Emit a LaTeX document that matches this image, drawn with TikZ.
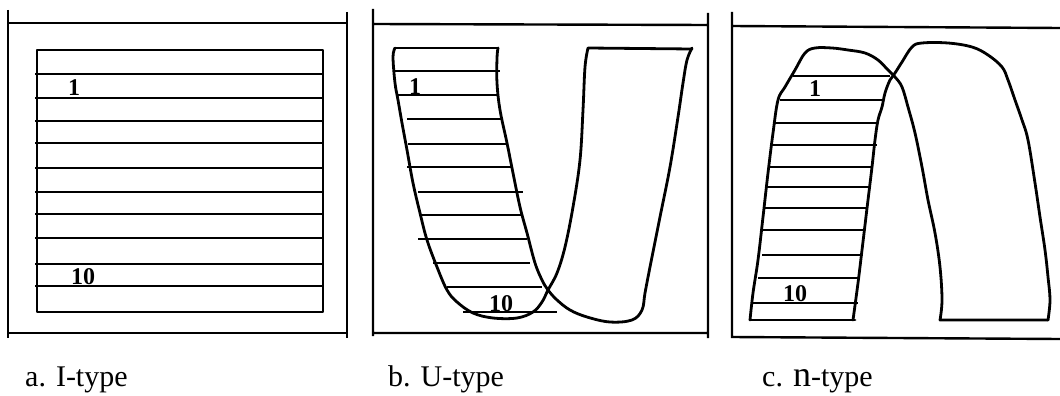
\documentclass[tikz,border=0pt]{standalone}
\usepackage{fontspec}
\setmainfont{Liberation Serif}
\tikzset{
  frame/.style={line width=2.4pt},
  outline/.style={line width=2.8pt, line join=round, line cap=round},
  layer/.style={line width=2.5pt},
  num/.style={font=\bfseries\fontsize{24}{24}\selectfont, inner sep=0pt},
  caption/.style={font=\fontsize{30}{30}\selectfont, inner sep=0pt, anchor=base west}
}

\begin{document}
\begin{tikzpicture}[x=1pt,y=-1pt]
\useasboundingbox (0,0) rectangle (1060,396);
% a. I-type
\draw[frame] (8,10) -- (8,338) (347,12) -- (347,338) (8,23) -- (347,23) (8,333) -- (347,333);
\draw[outline] (37,50) rectangle (323,312);
\foreach \y in {74,98,121,143,168,192,214,238,264,286}
  \draw[layer] (35,\y) -- (323,\y);
\node[num] (a1) at (74,88) {1};
\node[num] (a10) at (83,277) {10};
\node[caption] (acap) at (25,386) {a. I-type};

% b. U-type
\draw[frame] (373,9) -- (373,336) (708,13) -- (708,338) (373,24) -- (708,25) (373,333) -- (708,333);
\draw[outline] plot[smooth, tension=0.6] coordinates {(395,48) (393,57) (395,83) (398,100) (402,123)
  (407,150) (413,183) (420,213) (427,240) (437,267) (447,290) (457,302) (473,313) (493,318)
  (517,318) (533,312) (542,302) (548,290) (557,273) (565,247) (573,207) (580,160) (583,110)
  (585,67) (588,48)} -- (692,49);
\draw[outline] plot[smooth, tension=0.6] coordinates {(498,48) (497,58) (497,83) (500,110) (507,143)
  (513,173) (520,207) (527,233) (535,263) (542,280) (548,290) (557,300) (570,310) (587,317)
  (610,322) (632,320) (642,310) (645,293) (650,267) (660,217) (670,167) (678,117) (683,83)
  (687,60) (692,48)};
\draw[outline] (395,48) -- (498,48);
\foreach \y/\xa/\xb in {71/395/500, 95/397/498, 119/407/502, 144/408/508, 167/407/512,
    192/418/523, 215/420/523, 239/418/527, 263/433/530, 287/447/542, 312/463/557}
  \draw[layer] (\xa,\y) -- (\xb,\y);
\node[num] (b1) at (415,87) {1};
\node[num] (b10) at (501,304) {10};
\node[caption] (bcap) at (388,386) {b. U-type};

% c. n-type
\draw[frame] (732,12) -- (732,338) (732,26) -- (1060,28) (732,337) -- (1060,339);
\draw[outline] plot[smooth, tension=0.6] coordinates {(750,320) (753,293) (758,260) (763,217)
  (768,173) (773,133) (778,100) (785,87) (795,70) (805,53) (815,48) (832,48) (848,50) (865,53)
  (878,60) (888,70) (895,77) (902,87) (908,107) (915,133) (922,167) (928,200) (935,233)
  (940,267) (942,300) (940,320)} -- (1048,320);
\draw[outline] plot[smooth, tension=0.6] coordinates {(853,320) (858,283) (862,250) (868,200)
  (872,167) (875,140) (878,120) (882,107) (885,93) (890,80) (895,73) (902,62) (912,47) (922,43)
  (948,43) (972,47) (988,55) (1002,67) (1008,80) (1015,100) (1022,120) (1028,140) (1035,183)
  (1040,217) (1045,250) (1048,277) (1050,300) (1048,320)};
\draw[outline] (750,320) -- (855,320);
\foreach \y/\xa/\xb in {76/793/890, 100/780/883, 123/775/877, 145/772/877, 167/770/872,
    187/767/870, 208/765/868, 230/760/863, 255/762/863, 278/758/860, 303/753/858}
  \draw[layer] (\xa,\y) -- (\xb,\y);
\node[num] (c1) at (815,89) {1};
\node[num] (c10) at (795,294) {10};
\node[caption] (ccap) at (762,386) {c. {\fontsize{36}{36}\selectfont n}-type};
\end{tikzpicture}
\end{document}
